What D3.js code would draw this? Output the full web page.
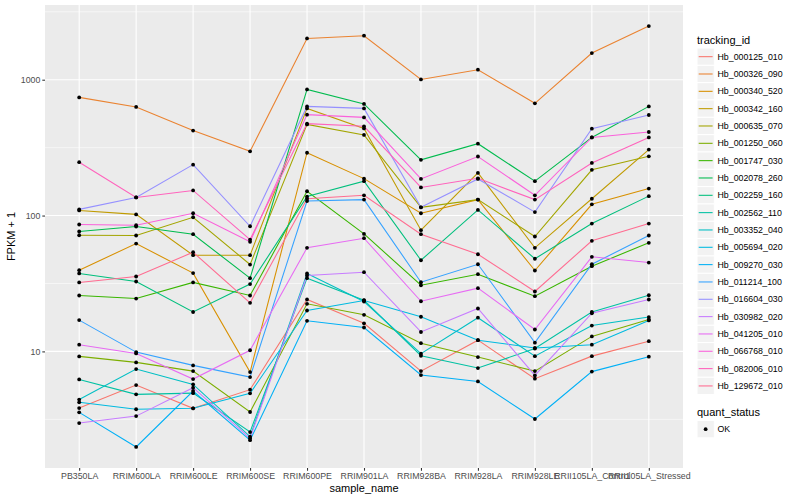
<!DOCTYPE html>
<html>
<head>
<meta charset="utf-8">
<script src="https://cdn.jsdelivr.net/npm/d3@7"></script>
<style>
  body { margin: 0; background: #fff; }
  text { font-family: "Liberation Sans", Arial, sans-serif; }
</style>
</head>
<body>
<svg id="chart" width="800" height="500"></svg>
<script>
// samples on the x axis
const samples = ['PB350LA', 'RRIM600LA', 'RRIM600LE', 'RRIM600SE', 'RRIM600PE', 'RRIM901LA',
  'RRIM928BA', 'RRIM928LA', 'RRIM928LE', 'RRII105LA_Control', 'RRII105LA_Stressed']

const trackingIds = ['Hb_000125_010', 'Hb_000326_090', 'Hb_000340_520', 'Hb_000342_160', 'Hb_000635_070',
  'Hb_001250_060', 'Hb_001747_030', 'Hb_002078_260', 'Hb_002259_160', 'Hb_002562_110', 'Hb_003352_040',
  'Hb_005694_020', 'Hb_009270_030', 'Hb_011214_100', 'Hb_016604_030', 'Hb_030982_020', 'Hb_041205_010',
  'Hb_066768_010', 'Hb_082006_010', 'Hb_129672_010']

// FPKM + 1, one value per sample
const hb000125 = [3.83, 5.65, 3.81, 5.23, 24.1, 16.1, 7.16, 12.1, 6.30, 9.23, 11.9]
const hb000326 = [741, 630, 422, 297, 2014, 2108, 1005, 1185, 670, 1571, 2483]
const hb000340 = [39.6, 62.2, 37.7, 7.05, 290, 187, 104, 131, 39.4, 121, 158]
const hb000342 = [109, 102, 51.1, 51.1, 615, 438, 78, 206, 57.9, 133, 306]
const hb000635 = [71.6, 71.3, 97.2, 43.6, 469, 392, 115, 131, 70.1, 217, 273]
const hb001250 = [9.19, 8.30, 7.16, 3.58, 22.4, 18.6, 11.5, 9.08, 7.16, 12.9, 17.2]
const hb001747 = [25.8, 24.5, 32.2, 25.8, 151, 73.3, 30.7, 37.0, 25.5, 42.4, 63.0]
const hb002078 = [76.3, 83.0, 72.9, 34.6, 848, 663, 257, 338, 179, 376, 636]
const hb002259 = [37.5, 32.7, 19.5, 31.3, 138, 179, 46.9, 110, 48.1, 87.3, 139]
const hb002562 = [6.22, 4.83, 4.93, 2.55, 34.6, 23.8, 9.29, 7.54, 10.5, 19.5, 25.9]
const hb003352 = [4.42, 7.41, 5.72, 2.36, 37.5, 23.3, 9.62, 17.7, 9.23, 15.5, 17.9]
const hb005694 = [4.22, 3.75, 3.81, 4.91, 20.0, 23.7, 18.0, 12.1, 10.6, 11.2, 16.9]
const hb009270 = [3.56, 1.98, 5.11, 2.22, 16.8, 15.0, 6.70, 6.01, 3.18, 7.10, 9.14]
const hb011214 = [17.0, 9.88, 7.89, 6.47, 128, 131, 32.3, 43.8, 11.6, 43.8, 71.3]
const hb016604 = [111, 136, 237, 83.4, 636, 615, 115, 186, 106, 436, 550]
const hb030982 = [2.97, 3.34, 5.41, 2.29, 36.2, 38.3, 13.9, 20.7, 6.66, 19.1, 24.1]
const hb041205 = [11.2, 9.66, 6.26, 10.2, 57.9, 68.1, 23.4, 29.2, 14.5, 49.7, 45.1]
const hb066768 = [85.9, 84.9, 104, 64.1, 553, 528, 186, 272, 141, 376, 412]
const hb082006 = [247, 136, 153, 66.6, 475, 454, 161, 188, 131, 244, 376]
const hb129672 = [32.2, 35.6, 53.7, 22.8, 133, 141, 72.9, 51.9, 27.6, 65.2, 87.3]

const seriesValues = [hb000125, hb000326, hb000340, hb000342, hb000635, hb001250, hb001747, hb002078,
  hb002259, hb002562, hb003352, hb005694, hb009270, hb011214, hb016604, hb030982, hb041205, hb066768,
  hb082006, hb129672]

// default ggplot hue palette for 20 levels
const palette = ['#F8766D', '#EA8331', '#D89000', '#C09B00', '#A3A500', '#7CAE00', '#39B600', '#00BB4E',
  '#00BF7D', '#00C1A3', '#00BFC4', '#00BAE0', '#00B0F6', '#35A2FF', '#9590FF', '#C77CFF', '#E76BF3',
  '#FA62DB', '#FF62BC', '#FF6C91']

const series = trackingIds.map((id, i) => ({
  id: id,
  points: samples.map((s, j) => ({ sample: s, value: seriesValues[i][j] }))
}))

const svg = d3.select('#chart')
const panel = { left: 45, right: 683, top: 5, bottom: 468 }

const x = d3.scalePoint().domain(samples).range([panel.left, panel.right]).padding(0.6)

// log scale with ggplot's 5% expansion in log space
const allValues = seriesValues.flat()
const lo = Math.log10(d3.min(allValues)), hi = Math.log10(d3.max(allValues))
const pad = (hi - lo) * 0.05
const y = d3.scaleLog().domain([10 ** (lo - pad), 10 ** (hi + pad)]).range([panel.bottom, panel.top])

// panel background
svg.append('rect')
  .attr('x', panel.left).attr('y', panel.top)
  .attr('width', panel.right - panel.left).attr('height', panel.bottom - panel.top)
  .attr('fill', '#EBEBEB')

const majorY = [10, 100, 1000]
const minorY = [10 ** 0.5, 10 ** 1.5, 10 ** 2.5, 10 ** 3.5].filter(v => v > y.domain()[0] && v < y.domain()[1])

svg.append('g').selectAll('line').data(minorY).enter().append('line')
  .attr('x1', panel.left).attr('x2', panel.right)
  .attr('y1', d => y(d)).attr('y2', d => y(d))
  .attr('stroke', '#fff').attr('stroke-width', 0.55)

svg.append('g').selectAll('line').data(majorY).enter().append('line')
  .attr('x1', panel.left).attr('x2', panel.right)
  .attr('y1', d => y(d)).attr('y2', d => y(d))
  .attr('stroke', '#fff').attr('stroke-width', 1.1)

svg.append('g').selectAll('line').data(samples).enter().append('line')
  .attr('x1', d => x(d)).attr('x2', d => x(d))
  .attr('y1', panel.top).attr('y2', panel.bottom)
  .attr('stroke', '#fff').attr('stroke-width', 1.1)

// lines
const line = d3.line().x(d => x(d.sample)).y(d => y(d.value))
svg.append('g').selectAll('path').data(series).enter().append('path')
  .attr('d', d => line(d.points))
  .attr('fill', 'none')
  .attr('stroke', (d, i) => palette[i])
  .attr('stroke-width', 1.07)

// points
svg.append('g').selectAll('circle').data(series.flatMap(s => s.points)).enter().append('circle')
  .attr('cx', d => x(d.sample)).attr('cy', d => y(d.value))
  .attr('r', 1.9).attr('fill', '#000')

// axes
const yAxis = svg.append('g')
  .attr('transform', `translate(${panel.left},0)`)
  .call(d3.axisLeft(y).tickValues(majorY).tickFormat(d3.format('d')).tickSize(2.7).tickPadding(2))
const xAxis = svg.append('g')
  .attr('transform', `translate(0,${panel.bottom})`)
  .call(d3.axisBottom(x).tickSize(2.7).tickPadding(2))

for (const ax of [yAxis, xAxis]) {
  ax.select('.domain').remove()
  ax.selectAll('line').attr('stroke', '#333').attr('stroke-width', 1.07)
  ax.selectAll('text').attr('fill', '#4D4D4D').style('font-size', '8.8px')
}

// axis titles
svg.append('text')
  .attr('x', (panel.left + panel.right) / 2).attr('y', 492)
  .attr('text-anchor', 'middle').style('font-size', '11px').attr('fill', '#000')
  .text('sample_name')

svg.append('text')
  .attr('transform', `translate(15,${(panel.top + panel.bottom) / 2}) rotate(-90)`)
  .attr('text-anchor', 'middle').style('font-size', '11px').attr('fill', '#000')
  .text('FPKM + 1')

// legend: tracking_id
const legend = svg.append('g').attr('transform', 'translate(697,0)')
legend.append('text').attr('x', 0).attr('y', 44).style('font-size', '11px').text('tracking_id')

const keyH = 17.33, keyTop = 48
const keys = legend.selectAll('g.key').data(trackingIds).enter().append('g')
  .attr('class', 'key')
  .attr('transform', (d, i) => `translate(0,${keyTop + i * keyH})`)
keys.append('rect').attr('width', 17.3).attr('height', keyH)
  .attr('fill', '#F2F2F2').attr('stroke', '#fff').attr('stroke-width', 1)
keys.append('line').attr('x1', 1.7).attr('x2', 15.6)
  .attr('y1', keyH / 2).attr('y2', keyH / 2)
  .attr('stroke', (d, i) => palette[i]).attr('stroke-width', 1.07)
keys.append('text').attr('x', 20.5).attr('y', keyH / 2 + 3.1)
  .style('font-size', '8.8px').text(d => d)

// legend: quant_status
const q = svg.append('g').attr('transform', 'translate(697,0)')
q.append('text').attr('x', 0).attr('y', 416).style('font-size', '11px').text('quant_status')
q.append('rect').attr('y', 420.5).attr('width', 17.3).attr('height', keyH)
  .attr('fill', '#F2F2F2').attr('stroke', '#fff')
q.append('circle').attr('cx', 8.65).attr('cy', 420.5 + keyH / 2).attr('r', 1.9).attr('fill', '#000')
q.append('text').attr('x', 20.5).attr('y', 420.5 + keyH / 2 + 3.1).style('font-size', '8.8px').text('OK')
</script>
</body>
</html>
